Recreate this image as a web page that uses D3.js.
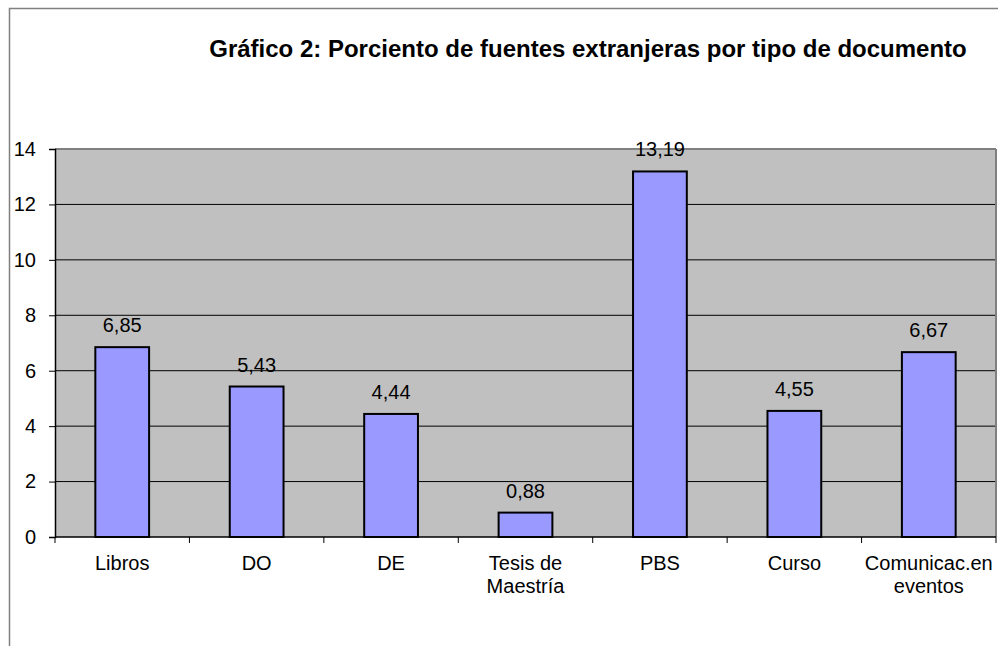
<!DOCTYPE html>
<html>
<head>
<meta charset="utf-8">
<script src="https://cdn.jsdelivr.net/npm/d3@7"></script>
<style>
  body { margin: 0; background: #fff; }
  text { font-family: "Liberation Sans", Arial, sans-serif; fill: #000; }
</style>
</head>
<body>
<div id="chart-area"></div>
<script>
// Data
var categories = ["Libros", "DO", "DE", "Tesis de\nMaestría", "PBS", "Curso", "Comunicac.en\neventos"];
var values = [6.85, 5.43, 4.44, 0.88, 13.19, 4.55, 6.67];
var valueLabels = ["6,85", "5,43", "4,44", "0,88", "13,19", "4,55", "6,67"];
var yTicks = [0, 2, 4, 6, 8, 10, 12, 14];
var title = "Gráfico 2: Porciento de fuentes extranjeras por tipo de documento";

var W = 998, H = 646;
var margin = { left: 55, right: 2, top: 149, bottom: 109 },
    width = W - margin.left - margin.right,
    height = H - margin.top - margin.bottom;

var svg = d3.select("#chart-area").append("svg")
    .attr("width", W)
    .attr("height", H);

// outer chart border
svg.append("rect")
    .attr("x", 9.5).attr("y", 8.5)
    .attr("width", 1000).attr("height", 700)
    .attr("fill", "none")
    .attr("stroke", "#808080")
    .attr("stroke-width", 1.5);

svg.append("text")
    .attr("x", 588)
    .attr("y", 57)
    .attr("text-anchor", "middle")
    .attr("font-size", "24px")
    .attr("font-weight", "bold")
    .text(title);

var g = svg.append("g")
    .attr("transform", "translate(" + margin.left + "," + margin.top + ")");

// Scales
var x = d3.scaleBand().domain(categories).range([0, width]).paddingInner(0.6).paddingOuter(0.3);
var xb = d3.scaleBand().domain(categories).range([0, width]);
var y = d3.scaleLinear().domain([0, 14]).range([height, 0]);

// plot background
g.append("rect")
    .attr("width", width).attr("height", height)
    .attr("fill", "#c0c0c0");

// gridlines
g.selectAll(".grid").data(yTicks.slice(1))
    .enter().append("line")
    .attr("class", "grid")
    .attr("x1", 0).attr("x2", width)
    .attr("y1", function(d){ return y(d); })
    .attr("y2", function(d){ return y(d); })
    .attr("stroke", function(d){ return d === 14 ? "#808080" : "#000"; })
    .attr("stroke-width", function(d){ return d === 14 ? 2 : 1; });

// right border of plot
g.append("line")
    .attr("x1", width).attr("x2", width)
    .attr("y1", 0).attr("y2", height)
    .attr("stroke", "#808080").attr("stroke-width", 2);

// Bars
g.selectAll(".bar").data(values)
    .enter().append("rect")
    .attr("class", "bar")
    .attr("x", function(d, i){ return x(categories[i]); })
    .attr("width", x.bandwidth())
    .attr("y", function(d){ return y(d); })
    .attr("height", function(d){ return height - y(d); })
    .attr("fill", "#9999ff")
    .attr("stroke", "#000")
    .attr("stroke-width", 2);

// Value labels
g.selectAll(".vlabel").data(values)
    .enter().append("text")
    .attr("class", "vlabel")
    .attr("x", function(d, i){ return x(categories[i]) + x.bandwidth() / 2; })
    .attr("y", function(d){ return y(d) - 15; })
    .attr("text-anchor", "middle")
    .attr("font-size", "20px")
    .text(function(d, i){ return valueLabels[i]; });

// Y axis
var yAxis = g.append("g")
    .call(d3.axisLeft(y).tickValues(yTicks).tickSize(6).tickPadding(13));
yAxis.select(".domain").attr("stroke", "#000").attr("stroke-width", 1.5);
yAxis.selectAll("text").attr("font-size", "20px").attr("font-family", null);

// X axis: ticks at category boundaries
var xAxis = g.append("g")
    .attr("transform", "translate(0," + height + ")");
xAxis.append("line")
    .attr("x1", 0).attr("x2", width)
    .attr("stroke", "#000").attr("stroke-width", 1.5);
xAxis.selectAll(".xtick").data(categories.concat([null]))
    .enter().append("line")
    .attr("class", "xtick")
    .attr("x1", function(d, i){ return i * xb.step(); })
    .attr("x2", function(d, i){ return i * xb.step(); })
    .attr("y1", 0).attr("y2", 6)
    .attr("stroke", "#000");

var labels = xAxis.selectAll(".xlabel").data(categories)
    .enter().append("text")
    .attr("class", "xlabel")
    .attr("text-anchor", "middle")
    .attr("font-size", "20px")
    .attr("transform", function(d){ return "translate(" + (xb(d) + xb.bandwidth() / 2) + ",33)"; });

labels.selectAll("tspan")
    .data(function(d){ return d.split("\n"); })
    .enter().append("tspan")
    .attr("x", 0)
    .attr("dy", function(d, i){ return i === 0 ? 0 : 23; })
    .text(function(d){ return d; });
</script>
</body>
</html>
